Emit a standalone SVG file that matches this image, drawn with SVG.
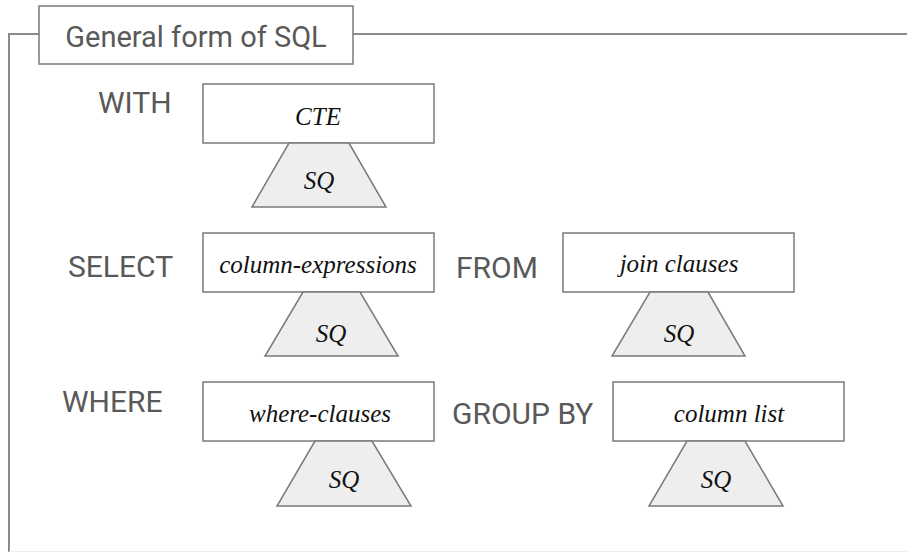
<svg xmlns="http://www.w3.org/2000/svg" width="907" height="552" viewBox="0 0 907 552">
<style>
.frame{fill:none;stroke:#8a8a8a;stroke-width:2}
.box{fill:#ffffff;stroke:#7a7a7a;stroke-width:1.5}
.trap{fill:#eeeeee;stroke:#7a7a7a;stroke-width:1.5}
.kw{font-family:Roboto,"Liberation Sans",sans-serif;font-size:30px;fill:#595959}
.title{font-family:Roboto,"Liberation Sans",sans-serif;font-size:29px;fill:#595959;text-anchor:middle}
.it{font-family:"Liberation Serif","DejaVu Serif",serif;font-style:italic;font-size:25px;fill:#111111;text-anchor:middle}
</style>
<rect width="907" height="552" fill="#ffffff"/>
<g id="frame">
<path class="frame" d="M9,553 V34 H908"/>
<line x1="9" y1="551.5" x2="907" y2="551.5" stroke="#eeeeee" stroke-width="1"/>
</g>
<g id="title">
<rect class="box" x="39" y="6" width="314" height="58" stroke="#8a8a8a"/>
<text class="title" x="196" y="47">General form of SQL</text>
</g>
<g id="labels">
<text class="kw" x="98" y="113">WITH</text>
<text class="kw" x="68" y="277">SELECT</text>
<text class="kw" x="62" y="412">WHERE</text>
<text class="kw" x="456" y="278">FROM</text>
<text class="kw" x="452" y="424">GROUP BY</text>
</g>
<g id="with-cte">
<rect class="box" x="203" y="84" width="231" height="59"/>
<text class="it" x="318" y="125">CTE</text>
</g>
<g id="with-sq">
<polygon class="trap" points="289,143 349,143 386,207 252,207"/>
<text class="it" x="319" y="189">SQ</text>
</g>
<g id="select-cols">
<rect class="box" x="203" y="233" width="231" height="59"/>
<text class="it" x="318" y="273">column-expressions</text>
</g>
<g id="select-sq">
<polygon class="trap" points="303,292 360,292 398,356 265,356"/>
<text class="it" x="331" y="342">SQ</text>
</g>
<g id="from-join">
<rect class="box" x="563" y="233" width="231" height="59"/>
<text class="it" x="679" y="272">join clauses</text>
</g>
<g id="from-sq">
<polygon class="trap" points="650,292 708,292 745,356 612,356"/>
<text class="it" x="679" y="342">SQ</text>
</g>
<g id="where-clauses">
<rect class="box" x="203" y="382" width="231" height="59"/>
<text class="it" x="320" y="422">where-clauses</text>
</g>
<g id="where-sq">
<polygon class="trap" points="315,441 372,441 411,506 277,506"/>
<text class="it" x="344" y="488">SQ</text>
</g>
<g id="groupby-list">
<rect class="box" x="613" y="382" width="231" height="59"/>
<text class="it" x="729" y="422">column list</text>
</g>
<g id="groupby-sq">
<polygon class="trap" points="687,441 745,441 783,506 649,506"/>
<text class="it" x="716" y="488">SQ</text>
</g>
<g id="connectors"></g>
</svg>
